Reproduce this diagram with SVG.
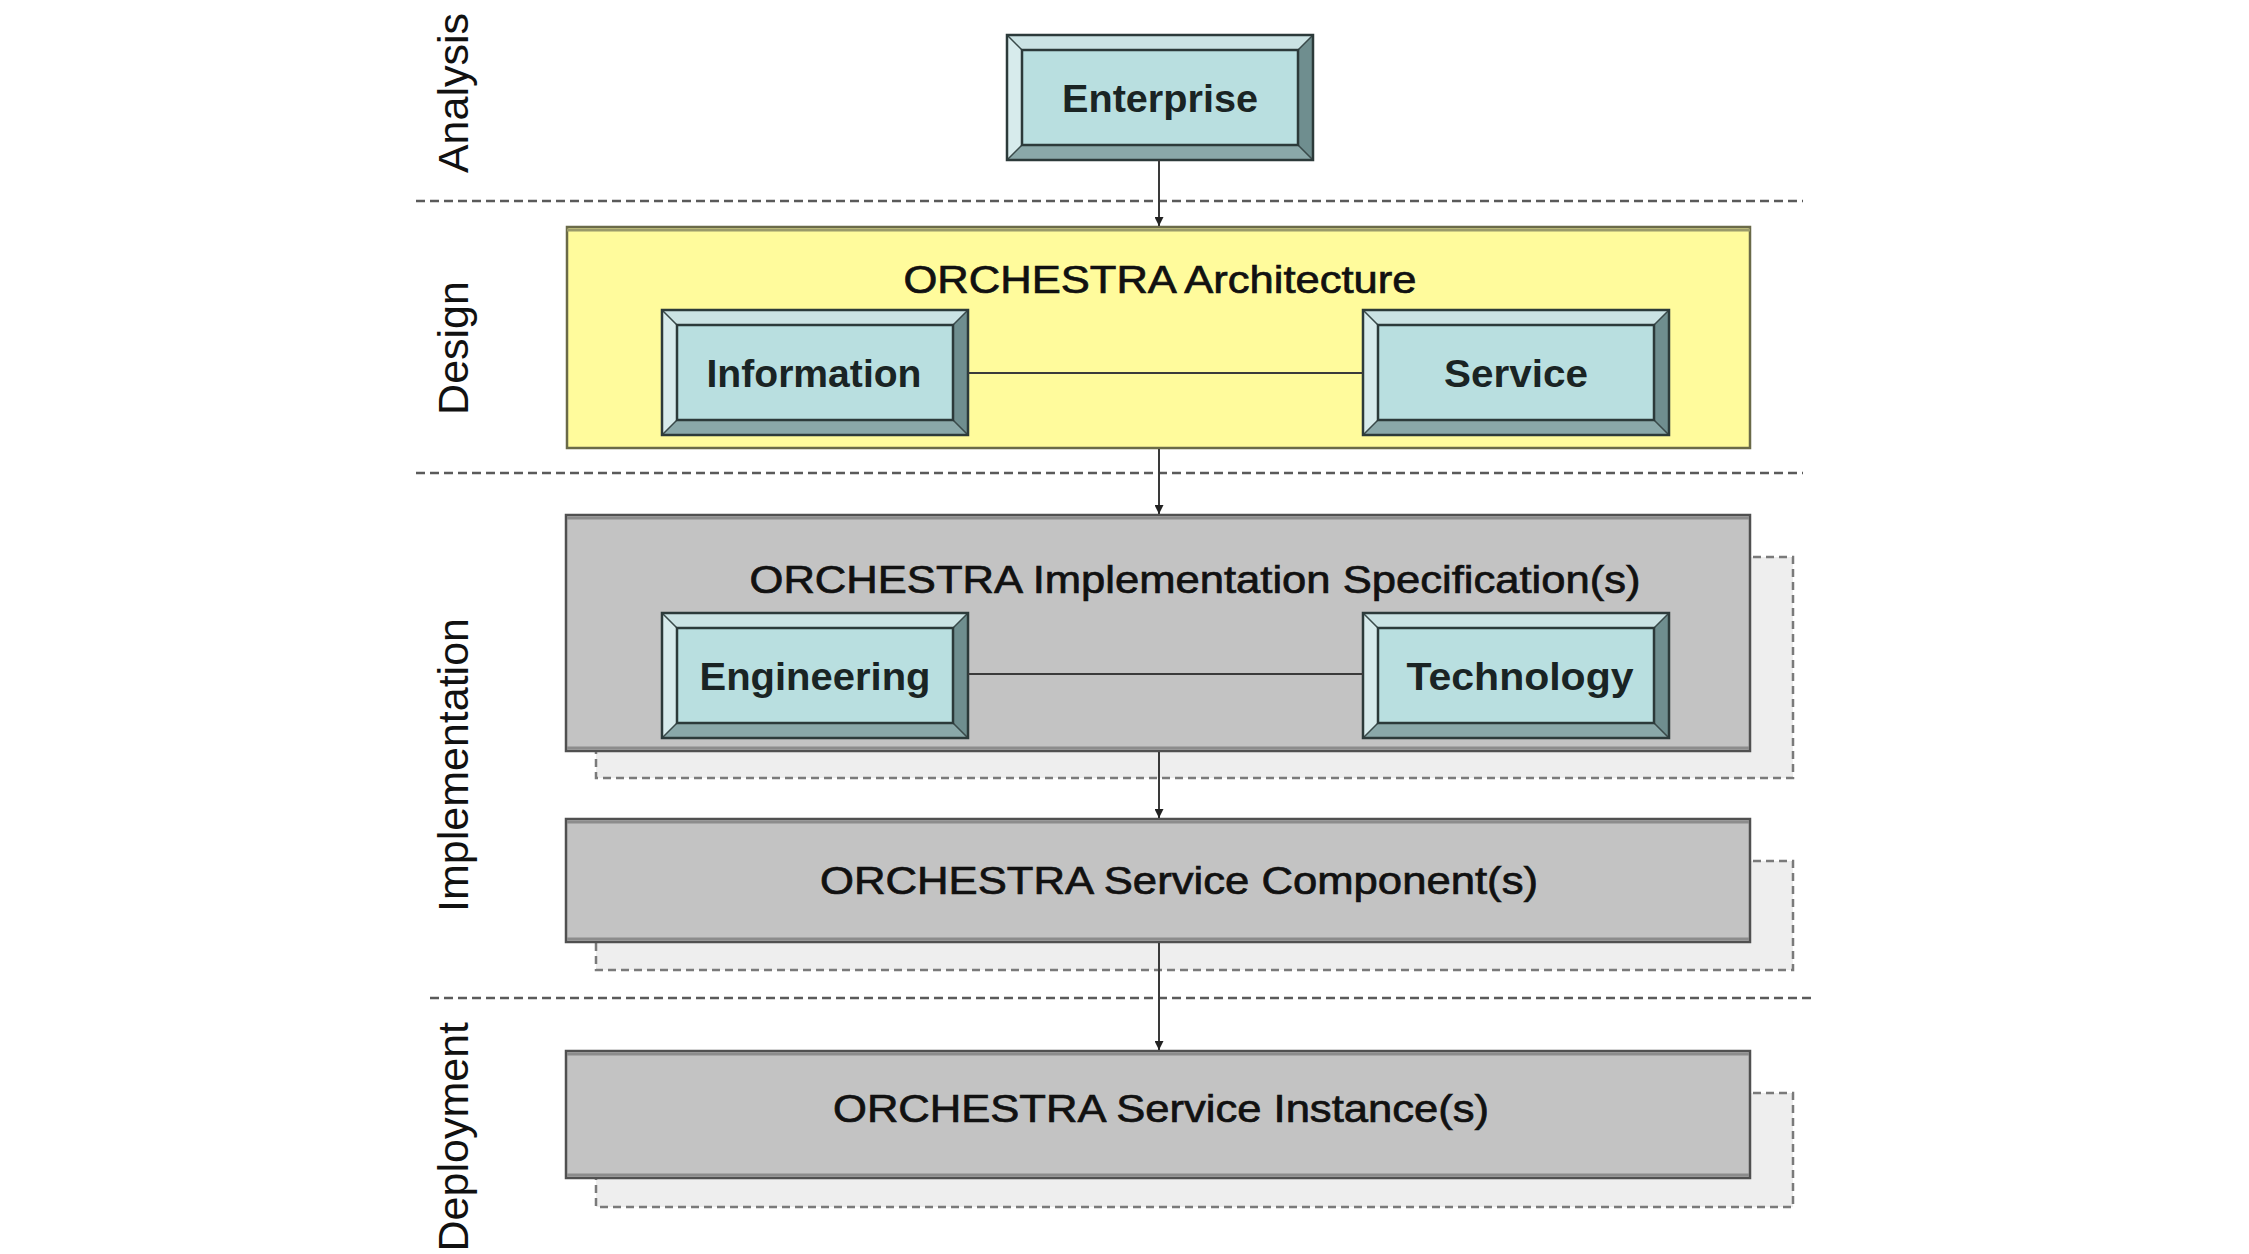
<svg xmlns="http://www.w3.org/2000/svg" xmlns:xlink="http://www.w3.org/1999/xlink" width="2249" height="1254" viewBox="0 0 2249 1254">
<style>
.sep{stroke:#5a5a5a;stroke-width:2.5;stroke-dasharray:9 5;fill:none}
.lane{font-family:"Liberation Sans",Arial,sans-serif;font-size:43px;fill:#111}
.title{font-family:"Liberation Sans",Arial,sans-serif;font-size:38px;fill:#111;stroke:#111;stroke-width:0.7;text-anchor:middle}
.lbl{font-family:"Liberation Sans",Arial,sans-serif;font-size:38px;font-weight:bold;fill:#1a2424;text-anchor:middle}
.gray{fill:#c3c3c3;stroke:#505050;stroke-width:2.5}
.shadow{fill:#eeeeee;stroke:#7a7a7a;stroke-width:2.5;stroke-dasharray:8 5}
.link{stroke:#3a3a3a;stroke-width:2;fill:none}
.band{stroke:#8c8c8c;stroke-width:3;fill:none}
</style>
<defs>
<g id="bevel">
<rect x="0" y="0" width="306" height="125" fill="#b9dfe0"/>
<polygon points="0,0 306,0 291,15 15,15" fill="#cbe3e4"/>
<polygon points="0,0 15,15 15,110 0,125" fill="#d7ebec"/>
<polygon points="306,0 306,125 291,110 291,15" fill="#6f8e8f"/>
<polygon points="0,125 15,110 291,110 306,125" fill="#8aa8a9"/>
<path d="M0,0 L15,15 M306,0 L291,15 M0,125 L15,110 M306,125 L291,110" stroke="#3a4a4a" stroke-width="1.5"/>
<rect x="15" y="15" width="276" height="95" fill="none" stroke="#2c3a3a" stroke-width="2.5"/>
<rect x="0" y="0" width="306" height="125" fill="none" stroke="#2c3a3a" stroke-width="2.5"/>
</g>
<marker id="ah" viewBox="0 0 10 10" refX="10" refY="5" markerWidth="9" markerHeight="9" markerUnits="userSpaceOnUse" orient="auto">
<path d="M0,0 L10,5 L0,10 z" fill="#222"/>
</marker>
</defs>
<rect width="2249" height="1254" fill="#ffffff"/>

<g id="lanes">
<line class="sep" x1="416" y1="201" x2="1803" y2="201"/>
<line class="sep" x1="416" y1="473" x2="1803" y2="473"/>
<line class="sep" x1="430" y1="998" x2="1815" y2="998"/>
<text class="lane" text-anchor="middle" transform="translate(468,93) rotate(-90)">Analysis</text>
<text class="lane" text-anchor="middle" transform="translate(468,348) rotate(-90)">Design</text>
<text class="lane" text-anchor="middle" transform="translate(468,765) rotate(-90)">Implementation</text>
<text class="lane" text-anchor="end" transform="translate(468,1022) rotate(-90)">Deployment</text>
</g>

<g id="enterprise">
<use xlink:href="#bevel" x="1007" y="35"/>
<text class="lbl" x="1160" y="112" textLength="196" lengthAdjust="spacingAndGlyphs">Enterprise</text>
</g>

<g id="architecture">
<rect x="567" y="227" width="1183" height="221" fill="#fffb9c" stroke="#6a6a48" stroke-width="2.5"/>
<line x1="567" y1="230" x2="1750" y2="230" stroke="#9a9a6a" stroke-width="3"/>
<text class="title" x="1160" y="293" textLength="513" lengthAdjust="spacingAndGlyphs">ORCHESTRA Architecture</text>
</g>

<g id="information">
<use xlink:href="#bevel" x="662" y="310"/>
<text class="lbl" x="814" y="387" textLength="215" lengthAdjust="spacingAndGlyphs">Information</text>
</g>

<g id="service">
<use xlink:href="#bevel" x="1363" y="310"/>
<text class="lbl" x="1516" y="387" textLength="144" lengthAdjust="spacingAndGlyphs">Service</text>
</g>

<g id="implementation-spec">
<rect class="shadow" x="596" y="557" width="1197" height="221"/>
<rect class="gray" x="566" y="515" width="1184" height="236"/>
<line class="band" x1="567" y1="518" x2="1749" y2="518"/>
<line class="band" x1="567" y1="748" x2="1749" y2="748"/>
<text class="title" x="1195" y="593" textLength="891" lengthAdjust="spacingAndGlyphs">ORCHESTRA Implementation Specification(s)</text>
</g>

<g id="engineering">
<use xlink:href="#bevel" x="662" y="613"/>
<text class="lbl" x="815" y="690" textLength="231" lengthAdjust="spacingAndGlyphs">Engineering</text>
</g>

<g id="technology">
<use xlink:href="#bevel" x="1363" y="613"/>
<text class="lbl" x="1520" y="690" textLength="227" lengthAdjust="spacingAndGlyphs">Technology</text>
</g>

<g id="service-component">
<rect class="shadow" x="596" y="861" width="1197" height="109"/>
<rect class="gray" x="566" y="819" width="1184" height="123"/>
<line class="band" x1="567" y1="822" x2="1749" y2="822"/>
<line class="band" x1="567" y1="939" x2="1749" y2="939"/>
<text class="title" x="1179" y="894" textLength="718" lengthAdjust="spacingAndGlyphs">ORCHESTRA Service Component(s)</text>
</g>

<g id="service-instance">
<rect class="shadow" x="596" y="1093" width="1197" height="114"/>
<rect class="gray" x="566" y="1051" width="1184" height="127"/>
<line class="band" x1="567" y1="1054" x2="1749" y2="1054"/>
<line class="band" x1="567" y1="1175" x2="1749" y2="1175"/>
<text class="title" x="1161" y="1122" textLength="656" lengthAdjust="spacingAndGlyphs">ORCHESTRA Service Instance(s)</text>
</g>

<g id="connectors">
<line class="link" x1="1159" y1="160" x2="1159" y2="226" marker-end="url(#ah)"/>
<line class="link" x1="1159" y1="449" x2="1159" y2="514" marker-end="url(#ah)"/>
<line class="link" x1="1159" y1="752" x2="1159" y2="818" marker-end="url(#ah)"/>
<line class="link" x1="1159" y1="943" x2="1159" y2="1050" marker-end="url(#ah)"/>
<line class="link" x1="968" y1="373" x2="1363" y2="373" stroke="#4a4a30"/>
<line class="link" x1="968" y1="674" x2="1363" y2="674"/>
</g>
</svg>
